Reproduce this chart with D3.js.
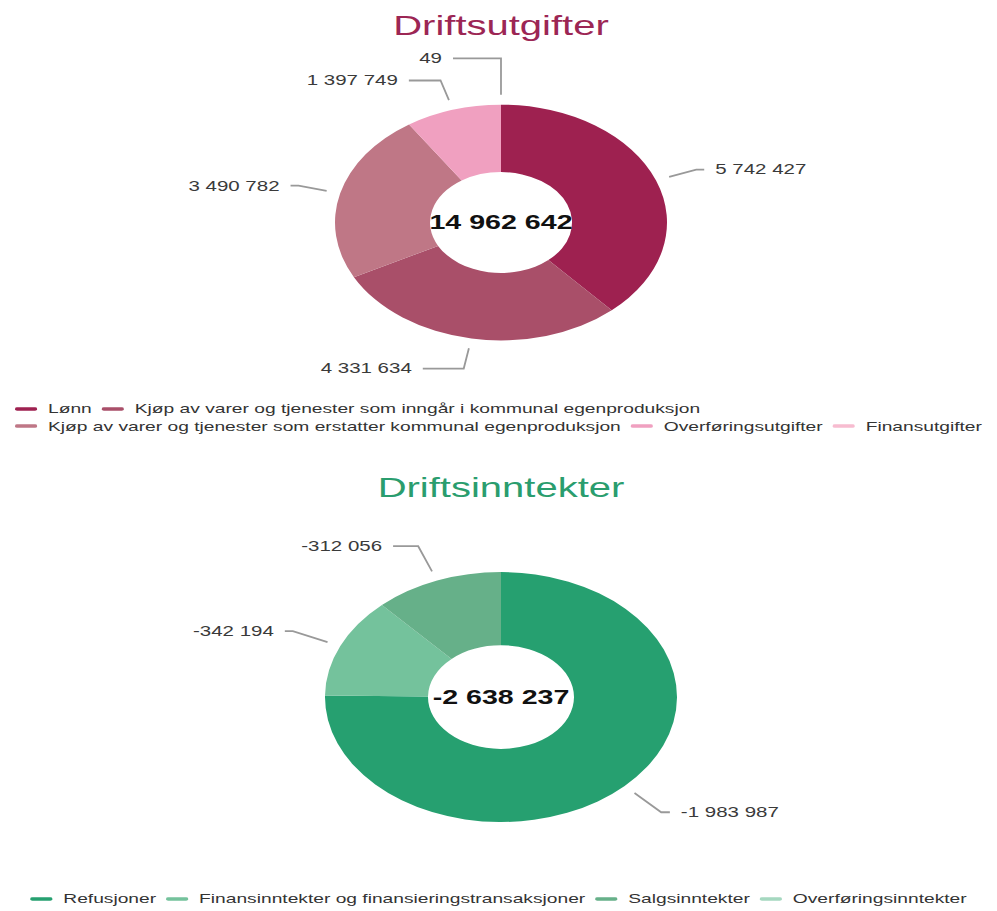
<!DOCTYPE html>
<html>
<head>
<meta charset="utf-8">
<script src="https://cdn.jsdelivr.net/npm/d3@7"></script>
<style>
  body { margin: 0; background: #fff; }
  svg { display: block; font-family: "Liberation Sans", Arial, sans-serif; }
</style>
</head>
<body>
<div id="chart"></div>
<script>
// values
var utgiftNavn = [
    "Lønn",
    "Kjøp av varer og tjenester som inngår i kommunal egenproduksjon",
    "Kjøp av varer og tjenester som erstatter kommunal egenproduksjon",
    "Overføringsutgifter",
    "Finansutgifter"
];
var utgiftVerdi = [5742427, 4331634, 3490782, 1397749, 49];
var utgiftSum = 14962642;

var inntektNavn = [
    "Refusjoner",
    "Finansinntekter og finansieringstransaksjoner",
    "Salgsinntekter",
    "Overføringsinntekter"
];
var inntektVerdi = [-1983987, -342194, -312056, 0];
var inntektSum = -2638237;

// colours
var utgiftFarger = ["#9e2150", "#a94f69", "#bf7786", "#f0a0c0", "#f7bcd0"];
var inntektFarger = ["#26a070", "#74c29c", "#66b089", "#a5d8c0"];

var svgWidth = 997;
var svgHeight = 911;
// the reference is squeezed in height, so draw on a taller canvas and let the viewBox squeeze it
var viewHeight = 1283;

var nok = d3.formatLocale({
    decimal: ",",
    thousands: " ",
    grouping: [3],
    currency: ["", ""],
    minus: "-"
}).format(",d");

var svg = d3.select("#chart")
    .append("svg")
    .attr("width", svgWidth)
    .attr("height", svgHeight)
    .attr("viewBox", `0 0 ${svgWidth} ${viewHeight}`)
    .attr("preserveAspectRatio", "none");

// place labels outside the ring, push overlapping ones away from the centre
function layoutLabels(arcs, r, dist) {
    var rl = r + dist;
    var items = arcs.map(function(d) {
        var m = (d.startAngle + d.endAngle) / 2;
        var sx = Math.sin(m), sy = -Math.cos(m);
        return {
            d: d,
            side: sx < 0 ? -1 : 1,
            sy: sy,
            x0: sx * (r + 14), y0: sy * (r + 14),
            x1: sx * rl, y1: sy * rl,
            moved: false
        };
    });
    var gap = 31;
    [-1, 1].forEach(function(side) {
        [-1, 1].forEach(function(half) {
            var list = items.filter(p => p.side === side && (p.y1 < 0 ? -1 : 1) === half)
                .sort((p, q) => Math.abs(p.y1) - Math.abs(q.y1));
            for (var i = 1; i < list.length; i++) {
                var need = Math.abs(list[i - 1].y1) + gap;
                if (Math.abs(list[i].y1) < need) {
                    list[i].y1 = half * need;
                    list[i].moved = true;
                }
            }
            var rb = Math.max(rl, d3.max(list, p => Math.abs(p.y1)) || 0);
            list.forEach(function(p) {
                if (p.moved) p.x1 = side * rl * Math.sqrt(Math.max(0, 1 - (p.y1 / rb) * (p.y1 / rb)));
            });
        });
    });
    items.forEach(function(p) {
        var tail = 8 + 40 * Math.pow(Math.abs(p.sy), 12);
        p.x2 = p.x1 + p.side * tail;
    });
    return items;
}

function drawLegend(names, colors, y) {
    var lg = svg.append("g");
    var items = names.map(function(n, i) {
        var it = lg.append("g");
        it.append("rect")
            .attr("width", 22)
            .attr("height", 5)
            .attr("y", -2.5)
            .attr("rx", 2)
            .attr("fill", colors[i]);
        var t = it.append("text")
            .attr("x", 33)
            .attr("dominant-baseline", "central")
            .attr("font-size", 19.2)
            .attr("fill", "#333")
            .text(n);
        return { g: it, w: 33 + t.node().getComputedTextLength() };
    });
    var rows = [[]], rowW = [0], maxW = 990, itemGap = 10;
    items.forEach(function(it) {
        var r = rows.length - 1;
        var add = (rows[r].length ? itemGap : 0) + it.w;
        if (rows[r].length && rowW[r] + add > maxW) {
            rows.push([it]);
            rowW.push(it.w);
        } else {
            rows[r].push(it);
            rowW[r] += add;
        }
    });
    var x0 = (svgWidth - d3.max(rowW)) / 2;
    rows.forEach(function(row, ri) {
        var x = x0;
        row.forEach(function(it) {
            it.g.attr("transform", `translate(${x}, ${y + ri * 24})`);
            x += it.w + itemGap;
        });
    });
}

function drawDonut(o) {
    svg.append("text")
        .attr("x", o.cx)
        .attr("y", o.titleY)
        .attr("text-anchor", "middle")
        .attr("font-size", 40)
        .attr("fill", o.titleColor)
        .text(o.title);

    var pie = d3.pie().sort(null).value(d => Math.abs(d));
    var arcs = pie(o.values);
    var arc = d3.arc().innerRadius(o.r0).outerRadius(o.r);

    var chartGroup = svg.append("g")
        .attr("transform", `translate(${o.cx}, ${o.cy})`);

    chartGroup.append("g")
        .selectAll("path")
        .data(arcs)
        .enter()
        .append("path")
        .attr("d", arc)
        .attr("fill", (d, i) => o.colors[i]);

    chartGroup.append("text")
        .attr("text-anchor", "middle")
        .attr("dominant-baseline", "central")
        .attr("font-size", 28.6)
        .attr("font-weight", "bold")
        .attr("fill", "#111")
        .text(nok(o.total));

    var labels = layoutLabels(arcs.filter(d => d.value > 0), o.r, o.labelDist);

    chartGroup.append("g")
        .selectAll("path")
        .data(labels)
        .enter()
        .append("path")
        .attr("d", p => `M${p.x0},${p.y0}L${p.x1},${p.y1}L${p.x2},${p.y1}`)
        .attr("fill", "none")
        .attr("stroke", "#999")
        .attr("stroke-width", 1.8)
        .attr("vector-effect", "non-scaling-stroke");

    chartGroup.append("g")
        .selectAll("text")
        .data(labels)
        .enter()
        .append("text")
        .attr("x", p => p.x2 + p.side * 11)
        .attr("y", p => p.y1)
        .attr("text-anchor", p => p.side < 0 ? "end" : "start")
        .attr("dominant-baseline", "central")
        .attr("font-size", 20.5)
        .attr("fill", "#3a3a3a")
        .text(p => nok(o.values[p.d.index]));

    drawLegend(o.names, o.colors, o.legendY);
}

drawDonut({
    title: "Driftsutgifter",
    titleColor: "#9c2654",
    titleY: 49,
    names: utgiftNavn,
    values: utgiftVerdi,
    colors: utgiftFarger,
    total: utgiftSum,
    cx: 501,
    cy: 313.4,
    r: 166,
    r0: 71,
    labelDist: 43,
    legendY: 576
});

drawDonut({
    title: "Driftsinntekter",
    titleColor: "#2a9d6e",
    titleY: 700,
    names: inntektNavn,
    values: inntektVerdi,
    colors: inntektFarger,
    total: inntektSum,
    cx: 501,
    cy: 981.7,
    r: 176,
    r0: 73,
    labelDist: 52,
    legendY: 1266
});
</script>
</body>
</html>
